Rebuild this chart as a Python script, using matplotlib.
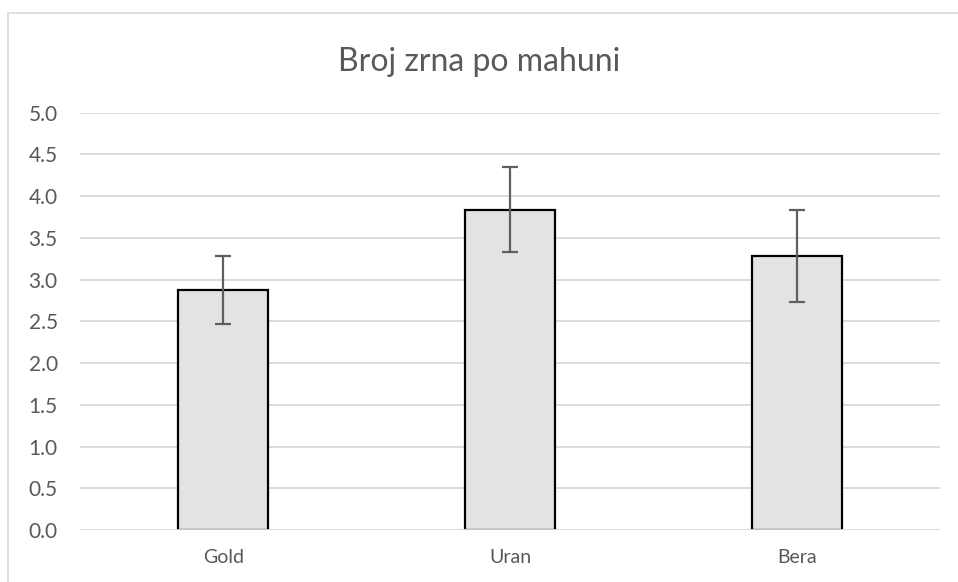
import matplotlib.pyplot as plt
from matplotlib.patches import Rectangle

# data
sorts = ['Gold', 'Uran', 'Bera']
means = [2.875, 3.84, 3.285]
errors = [0.41, 0.51, 0.555]
y_ticks = [0.0, 0.5, 1.0, 1.5, 2.0, 2.5, 3.0, 3.5, 4.0, 4.5, 5.0]

plt.rcParams['font.family'] = ['Lato', 'DejaVu Sans']
text_col = '#595959'

fig = plt.figure(figsize=(9.58, 5.82), dpi=100)
# light chart border like Excel
fig.patches.append(Rectangle((8 / 958, -0.05), 1.0, 1 - 13 / 582 + 0.05,
                             transform=fig.transFigure, fill=False,
                             edgecolor='#d9d9d9', linewidth=1.2))

ax = fig.add_axes([80 / 958, 1 - 530 / 582, 860 / 958, (530 - 112.7) / 582])
x = range(len(sorts))
ax.bar(x, means, width=0.315, color='#e3e3e3', edgecolor='black',
       linewidth=1.6, zorder=3)
ax.errorbar(x, means, yerr=errors, fmt='none', ecolor='#5f5f5f',
            elinewidth=1.6, capsize=5.5, capthick=1.6, zorder=4)

ax.set_xlim(-0.5, 2.5)
ax.set_ylim(0, 5)
ax.set_yticks(y_ticks)
ax.set_yticklabels(['%.1f' % v for v in y_ticks])
ax.set_xticks(list(x))
ax.set_xticklabels(sorts)
ax.yaxis.grid(True, color='#d9d9d9', linewidth=1.3, zorder=0)
ax.set_axisbelow(True)
for s in ax.spines.values():
    s.set_visible(False)
ax.axhline(0, color='#d9d9d9', linewidth=1.3, zorder=5)
ax.tick_params(axis='both', length=0, labelcolor=text_col)
ax.tick_params(axis='y', pad=16, labelsize=15)
ax.tick_params(axis='x', pad=14, labelsize=14)

fig.text(0.5, 1 - 62 / 582, 'Broj zrna po mahuni', ha='center', va='center',
         fontsize=23, color=text_col)

fig.savefig('out.png', dpi=100)
